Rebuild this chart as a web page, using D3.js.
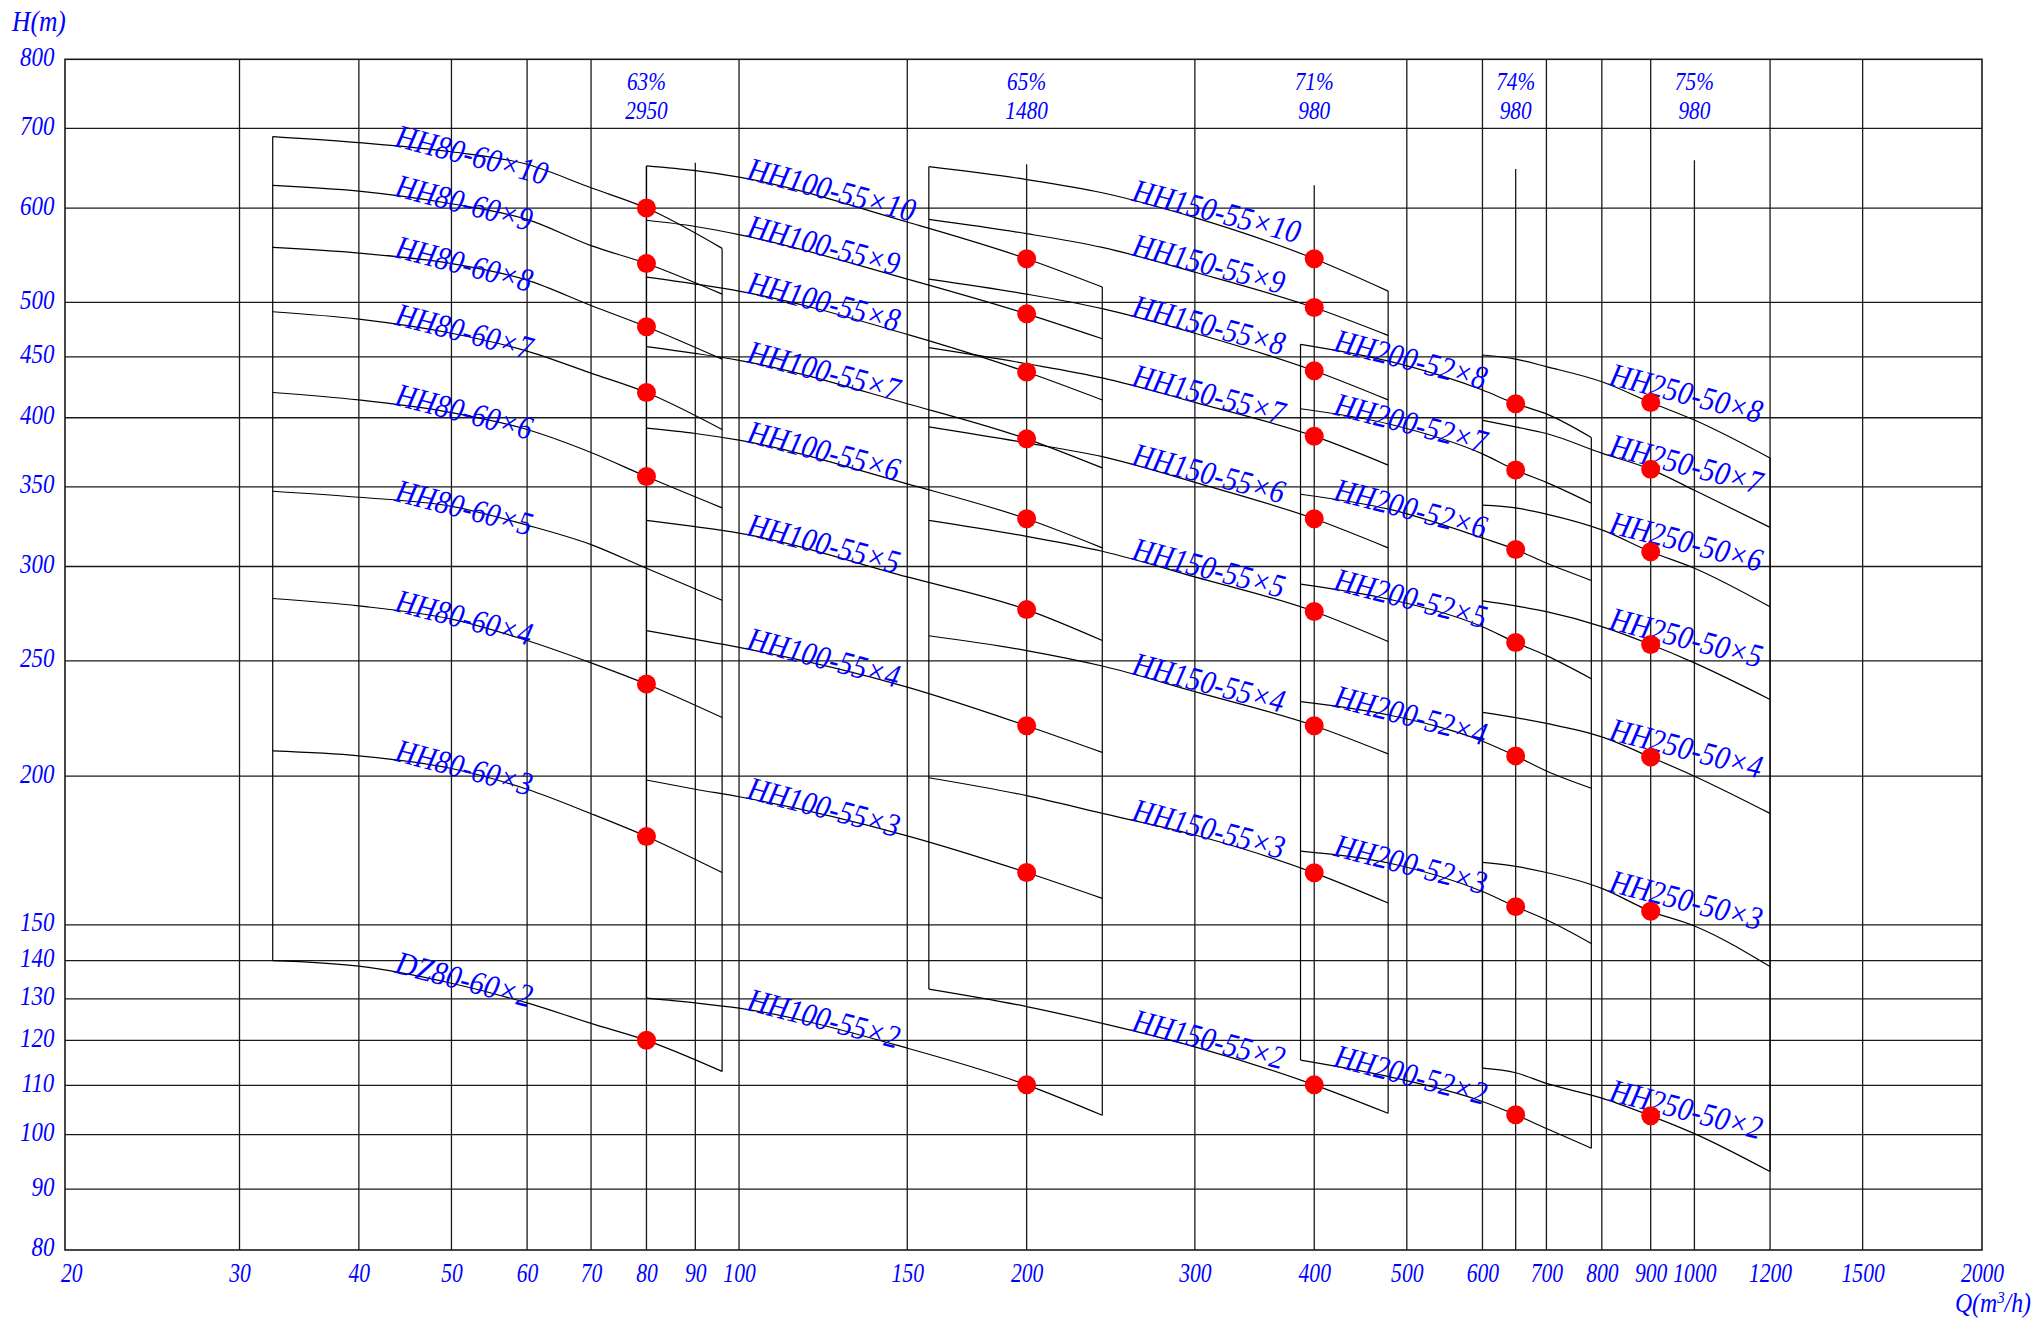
<!DOCTYPE html>
<html>
<head>
<meta charset="utf-8">
<script src="https://cdn.jsdelivr.net/npm/d3@7"></script>
<style>
  body { margin: 0; background: #fff; }
  svg text { font-family: "Liberation Serif", "DejaVu Serif", serif; font-style: italic; fill: #0000ff; }
</style>
</head>
<body>
<svg id="chart"></svg>
<script>
// ---------------------------------------------
// Data
// ---------------------------------------------

// Axes
const xTickValues = [20, 30, 40, 50, 60, 70, 80, 90, 100, 150, 200, 300, 400, 500, 600, 700, 800, 900, 1000, 1200, 1500, 2000];
const yTickValues = [80, 90, 100, 110, 120, 130, 140, 150, 200, 250, 300, 350, 400, 450, 500, 600, 700, 800];
const xGridValues = [30, 40, 50, 60, 70, 100, 150, 300, 500, 600, 700, 800, 900, 1200, 1500];
const yGridValues = [90, 100, 110, 120, 130, 140, 150, 200, 250, 300, 350, 400, 450, 500, 600, 700];

// Short verticals (flow, head where they start)
const bepLineQ = [80, 90, 200, 400, 650, 1000];
const bepLineTop = [651, 655, 653, 627, 647, 658];

// Efficiency / speed header
const headerQ = [80, 200, 400, 650, 1000];
const headerEff = ["63%", "65%", "71%", "74%", "75%"];
const headerRpm = ["2950", "1480", "980", "980", "980"];

// HH80-60
const hh80Q = [32.5, 40, 50, 60, 70, 80, 96];
const hh80Names = ["HH80-60×10", "HH80-60×9", "HH80-60×8", "HH80-60×7", "HH80-60×6", "HH80-60×5", "HH80-60×4", "HH80-60×3", "DZ80-60×2"];
const hh80H = [
  [689, 681, 669, 653, 624, 600, 555],
  [627, 620, 605, 587, 558, 539, 508],
  [556, 550, 539, 522, 497, 477, 448],
  [491, 484, 471, 455, 436, 420, 391],
  [420, 414, 404, 391, 374, 357, 336],
  [347, 343, 337, 325, 313, 299, 281],
  [282, 278, 271, 260, 249, 239, 224],
  [210, 208, 203, 195, 186, 178, 166],
  [140, 138.5, 134, 129, 124, 120, 113],
];
const hh80DotRows = [0, 1, 2, 3, 4, 6, 7, 8];

// HH100-55
const hh100Q = [80, 90, 100, 150, 200, 240];
const hh100Names = ["HH100-55×10", "HH100-55×9", "HH100-55×8", "HH100-55×7", "HH100-55×6", "HH100-55×5", "HH100-55×4", "HH100-55×3", "HH100-55×2"];
const hh100H = [
  [651, 645, 637, 584, 544, 515],
  [586, 579, 570, 523, 489, 466],
  [525, 518, 511, 470, 437, 414],
  [459, 453, 447, 411, 384, 363],
  [392, 388, 383, 352, 329, 311],
  [328, 324, 320, 294, 276, 260],
  [265, 260.6, 256.6, 237.6, 220.5, 209.4],
  [198.5, 195, 192.2, 178.2, 166, 157.9],
  [130.2, 129, 127.7, 118.2, 110.1, 103.8],
];
const hh100DotRows = [0, 1, 2, 3, 4, 5, 6, 7, 8];

// HH150-55
const hh150Q = [158, 200, 240, 300, 400, 478];
const hh150Names = ["HH150-55×10", "HH150-55×9", "HH150-55×8", "HH150-55×7", "HH150-55×6", "HH150-55×5", "HH150-55×4", "HH150-55×3", "HH150-55×2"];
const hh150H = [
  [650, 634, 618, 589, 544, 511],
  [587, 571, 556, 530, 495, 469],
  [523, 508, 494, 471, 438, 414],
  [458, 444, 432, 412, 386, 365],
  [393, 381, 371, 353, 329, 311],
  [328, 318, 309, 294, 275, 259.5],
  [262.4, 255, 247.5, 235.5, 220.5, 208.8],
  [199.4, 192.6, 186.1, 178.5, 165.9, 156.5],
  [132.5, 128.1, 124, 118.5, 110.1, 104.2],
];
const hh150DotRows = [0, 1, 2, 3, 4, 5, 6, 7, 8];

// HH200-52
const hh200Q = [387, 480, 600, 650, 700, 780];
const hh200Names = ["HH200-52×8", "HH200-52×7", "HH200-52×6", "HH200-52×5", "HH200-52×4", "HH200-52×3", "HH200-52×2"];
const hh200H = [
  [461, 446, 422, 411, 403, 385],
  [407, 395, 373, 361.5, 353, 339],
  [345, 335, 317, 310, 302, 292],
  [290, 281.5, 267, 259, 252.5, 241.5],
  [231, 225, 214, 208, 202, 195.4],
  [173, 169, 160, 155.4, 151.5, 144.7],
  [115.5, 111.8, 106.6, 103.9, 101.2, 97.4],
];
const hh200DotRows = [0, 1, 2, 3, 4, 5, 6];

// HH250-50
const hh250Q = [600, 650, 700, 800, 900, 1000, 1200];
const hh250Names = ["HH250-50×8", "HH250-50×7", "HH250-50×6", "HH250-50×5", "HH250-50×4", "HH250-50×3", "HH250-50×2"];
const hh250H = [
  [451.6, 448, 441.5, 428.8, 412, 398.2, 370],
  [398, 393, 388, 373.5, 362, 347.7, 323.6],
  [337.8, 336, 332, 322, 308.7, 299, 277.5],
  [280.7, 278, 274.9, 267.1, 258, 249, 232],
  [226.3, 224, 221.5, 215.8, 207.5, 200, 186.1],
  [169.3, 168, 166, 161, 154, 149.7, 138.4],
  [113.7, 112.7, 110.4, 107.3, 103.7, 100.2, 93.1],
];
const hh250DotRows = [0, 1, 2, 3, 4, 5, 6];

const families = [
  { q: hh80Q, h: hh80H, names: hh80Names, dots: hh80DotRows, bep: 80, labelQ: 43.5 },
  { q: hh100Q, h: hh100H, names: hh100Names, dots: hh100DotRows, bep: 200, labelQ: 101.6 },
  { q: hh150Q, h: hh150H, names: hh150Names, dots: hh150DotRows, bep: 400, labelQ: 257 },
  { q: hh200Q, h: hh200H, names: hh200Names, dots: hh200DotRows, bep: 650, labelQ: 418 },
  { q: hh250Q, h: hh250H, names: hh250Names, dots: hh250DotRows, bep: 900, labelQ: 812 },
];

// ---------------------------------------------
// Setup
// ---------------------------------------------
const width = 2035;
const height = 1319;

const svg = d3.select("#chart").attr("width", width).attr("height", height);

const x = d3.scaleLog().domain([19.7, 2000]).range([65, 1982]);
const y = d3.scaleLog().domain([80, 800]).range([1250, 59.3]);

const [qMin, qMax] = x.domain();
const [hMin, hMax] = y.domain();

const gridGroup = svg.append("g").attr("stroke", "#1a1a1a").attr("stroke-width", 1.3);
const curveGroup = svg.append("g").attr("fill", "none").attr("stroke", "#000").attr("stroke-width", 1.2);
const labelGroup = svg.append("g");
const dotGroup = svg.append("g").attr("fill", "#ff0000");

// Grid
gridGroup.selectAll(".vgrid").data(xGridValues).enter().append("line")
  .attr("x1", d => x(d)).attr("x2", d => x(d))
  .attr("y1", y(hMin)).attr("y2", y(hMax));

gridGroup.selectAll(".hgrid").data(yGridValues).enter().append("line")
  .attr("x1", x(qMin)).attr("x2", x(qMax))
  .attr("y1", d => y(d)).attr("y2", d => y(d));

gridGroup.selectAll(".bepline").data(bepLineQ).enter().append("line")
  .attr("x1", d => x(d)).attr("x2", d => x(d))
  .attr("y1", (d, i) => y(bepLineTop[i])).attr("y2", y(hMin));

gridGroup.append("rect")
  .attr("x", x(qMin)).attr("y", y(hMax))
  .attr("width", x(qMax) - x(qMin)).attr("height", y(hMin) - y(hMax))
  .attr("fill", "none").attr("stroke-width", 1.6);

// Axes (labels only)
const xAxis = d3.axisBottom(x).tickValues(xTickValues).tickSize(0).tickPadding(13).tickFormat(d3.format("d"));
const xAxisGroup = svg.append("g").attr("transform", `translate(0, ${y(hMin)})`).call(xAxis);
xAxisGroup.select(".domain").remove();
xAxisGroup.selectAll("text")
  .attr("font-size", 27)
  .attr("font-family", null)
  .attr("fill", null)
  .attr("transform", "scale(0.8,1)");

const yAxis = d3.axisLeft(y).tickValues(yTickValues).tickSize(0).tickPadding(13).tickFormat(d3.format("d"));
const yAxisGroup = svg.append("g").attr("transform", `translate(${x(qMin)}, 0)`).call(yAxis);
yAxisGroup.select(".domain").remove();
yAxisGroup.selectAll("text")
  .attr("font-size", 28)
  .attr("y", -3)
  .attr("font-family", null)
  .attr("fill", null)
  .attr("transform", "scale(0.82,1)");
svg.selectAll(".tick text").style("fill", "#0000ff");

// Axis titles
svg.append("text")
  .attr("transform", "translate(12, 31) scale(0.88,1)")
  .attr("font-size", 29)
  .text("H(m)");

const qTitle = svg.append("text")
  .attr("transform", "translate(2031, 1312) scale(0.88,1)")
  .attr("text-anchor", "end")
  .attr("font-size", 27);
qTitle.append("tspan").text("Q(m");
qTitle.append("tspan").attr("font-size", 17).attr("dy", -9).text("3");
qTitle.append("tspan").attr("dy", 9).text("/h)");

// Header: efficiency and speed
headerQ.forEach((q, i) => {
  svg.append("text")
    .attr("transform", `translate(${x(q)}, ${y(hMax) + 31}) scale(0.82,1)`)
    .attr("text-anchor", "middle").attr("font-size", 26)
    .text(headerEff[i]);
  svg.append("text")
    .attr("transform", `translate(${x(q)}, ${y(hMax) + 60}) scale(0.82,1)`)
    .attr("text-anchor", "middle").attr("font-size", 26)
    .text(headerRpm[i]);
});

// ---------------------------------------------
// Curves
// ---------------------------------------------
const lineGen = d3.line()
  .x(d => x(d[0]))
  .y(d => y(d[1]))
  .curve(d3.curveMonotoneX);

// point on the drawn polyline at a given flow, used to anchor labels
function pointAt(qs, hs, q) {
  const px = x(q);
  let j = 1;
  while (j < qs.length - 1 && x(qs[j]) < px) j++;
  const x0 = x(qs[j - 1]), x1 = x(qs[j]);
  const y0 = y(hs[j - 1]), y1 = y(hs[j]);
  const t = (px - x0) / (x1 - x0);
  return [px, y0 + t * (y1 - y0)];
}

families.forEach(f => {
  const last = f.q.length - 1;

  f.h.forEach((row, i) => {
    const pts = f.q.map((q, j) => [q, row[j]]);
    curveGroup.append("path").attr("d", lineGen(pts));

    const [px, py] = pointAt(f.q, row, f.labelQ);
    const name = f.names[i];
    labelGroup.append("text")
      .attr("transform", `translate(${px}, ${py}) rotate(14.5)`)
      .attr("font-size", 33)
      .attr("textLength", 16 * name.length - 4)
      .attr("lengthAdjust", "spacingAndGlyphs")
      .text(name);
  });

  // box sides
  const top = f.h[0];
  const bottom = f.h[f.h.length - 1];
  curveGroup.append("line")
    .attr("x1", x(f.q[0])).attr("x2", x(f.q[0]))
    .attr("y1", y(top[0])).attr("y2", y(bottom[0]));
  curveGroup.append("line")
    .attr("x1", x(f.q[last])).attr("x2", x(f.q[last]))
    .attr("y1", y(top[last])).attr("y2", y(bottom[last]));

  // best efficiency points
  const k = f.q.indexOf(f.bep);
  dotGroup.selectAll(null).data(f.dots).enter().append("circle")
    .attr("cx", x(f.bep))
    .attr("cy", d => y(f.h[d][k]))
    .attr("r", 9.5);
});
</script>
</body>
</html>
